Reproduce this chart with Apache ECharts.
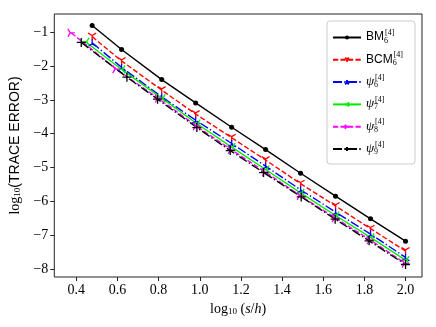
<!DOCTYPE html>
<html>
<head>
<meta charset="utf-8">
<script src="https://cdn.jsdelivr.net/npm/echarts@6/dist/echarts.min.js"></script>
<style>
html, body { margin: 0; padding: 0; background: #fff; }
#chart { width: 436px; height: 327px; }
</style>
</head>
<body>
<div id="chart"></div>
<script>
// values (log10 s/h vs log10 trace error)
const bmX = [0.477, 0.62, 0.815, 0.98, 1.155, 1.32, 1.49, 1.66, 1.83, 2.0];
const bmY = [-0.80, -1.51, -2.40, -3.09, -3.81, -4.47, -5.17, -5.85, -6.52, -7.18];
const bcmX = [0.477, 0.62, 0.815, 0.98, 1.155, 1.32, 1.49, 1.66, 1.83, 2.0];
const bcmY = [-1.13, -1.85, -2.71, -3.42, -4.12, -4.78, -5.48, -6.14, -6.81, -7.47];
const psi6X = [0.477, 0.62, 0.815, 0.98, 1.155, 1.32, 1.49, 1.66, 1.83, 2.0];
const psi6Y = [-1.31, -2.04, -2.91, -3.60, -4.29, -4.96, -5.66, -6.32, -6.97, -7.66];
const psi7X = [0.445, 0.62, 0.815, 0.985, 1.155, 1.32, 1.49, 1.66, 1.83, 2.0];
const psi7Y = [-1.28, -2.10, -2.95, -3.70, -4.40, -5.06, -5.75, -6.42, -7.07, -7.74];
const psi8X = [0.376, 0.594, 0.80, 0.985, 1.155, 1.32, 1.49, 1.66, 1.83, 2.0];
const psi8Y = [-1.02, -2.09, -2.96, -3.78, -4.48, -5.14, -5.84, -6.50, -7.15, -7.84];
const psi9X = [0.424, 0.646, 0.795, 0.986, 1.148, 1.31, 1.493, 1.658, 1.823, 2.0];
const psi9Y = [-1.30, -2.33, -2.98, -3.82, -4.50, -5.15, -5.87, -6.53, -7.17, -7.87];

const xTicks = [0.4, 0.6, 0.8, 1.0, 1.2, 1.4, 1.6, 1.8, 2.0];
const yTicks = [-8, -7, -6, -5, -4, -3, -2, -1];

const serif = 'Liberation Serif';
const sans = 'Liberation Sans';

// matplotlib-ish tri markers
const triDown = 'path://M5,5L5,10M5,5L0.67,2.5M5,5L9.33,2.5';
const triUp = 'path://M5,5L5,0M5,5L0.67,7.5M5,5L9.33,7.5';
const triLeft = 'path://M5,5L0,5M5,5L7.5,0.67M5,5L7.5,9.33';
const triRight = 'path://M5,5L10,5M5,5L2.5,0.67M5,5L2.5,9.33';
const plus = 'path://M5,0L5,10M0,5L10,5';

const pairs = (xs, ys) => xs.map((x, i) => [x, ys[i]]);

const mk = (name, xs, ys, color, dash, symbol, size) => ({
    name: name,
    type: 'line',
    data: pairs(xs, ys),
    symbol: symbol,
    symbolSize: size,
    symbolKeepAspect: true,
    showSymbol: true,
    lineStyle: { color: color, width: 1.4, type: dash },
    itemStyle: {
        color: symbol === 'circle' ? color : 'none',
        borderColor: color,
        borderWidth: symbol === 'circle' ? 0 : 1.3
    },
    emphasis: { disabled: true },
    animation: false
});

const dashed = [5.2, 2.3];
const dashDot = [9, 2.3, 1.4, 2.3];

const chart = echarts.init(document.getElementById('chart'), null, { renderer: 'canvas' });

const sub = { fontFamily: serif, fontSize: 8, padding: [7, 0, 0, 0], width: 1 };
const sup = { fontFamily: serif, fontSize: 8, padding: [0, 0, 8, 0] };

chart.setOption({
    backgroundColor: '#fff',
    animation: false,
    grid: {
        left: 54, right: 14, top: 14, bottom: 50,
        show: true, borderColor: '#222', borderWidth: 1, backgroundColor: 'transparent'
    },
    legend: {
        orient: 'vertical',
        right: 21,
        top: 21,
        itemWidth: 28,
        itemHeight: 5,
        itemGap: 6.8,
        padding: [8, 12, 8, 5],
        backgroundColor: 'rgba(255,255,255,0.8)',
        borderColor: '#ccc',
        borderWidth: 1,
        borderRadius: 3,
        selectedMode: false,
        data: ['BM', 'BCM', 'psi6', 'psi7', 'psi8', 'psi9'],
        formatter: function (n) {
            if (n === 'BM') return '{n|BM}{s|6}{p|[4]}';
            if (n === 'BCM') return '{n|BCM}{s|6}{p|[4]}';
            return '{g|ψ}{s|' + n.slice(3) + '}{p|[4]}';
        },
        textStyle: {
            color: '#000',
            height: 17,
            padding: [0, 0, 0, 0],
            rich: {
                n: { fontFamily: sans, fontSize: 12, color: '#000' },
                g: { fontFamily: serif, fontSize: 13, fontStyle: 'italic', color: '#000' },
                s: Object.assign({ color: '#000' }, sub),
                p: Object.assign({ color: '#000' }, sup)
            }
        }
    },
    xAxis: {
        type: 'value',
        min: 0.293,
        max: 2.08,
        name: '{a|log}{b|10}{c| (}{d|s}{c|/}{d|h}{c|)}',
        nameLocation: 'middle',
        nameGap: 19,
        nameTextStyle: {
            color: '#000',
            rich: {
                a: { fontFamily: serif, fontSize: 14 },
                b: { fontFamily: serif, fontSize: 9, padding: [6, 0, 0, 0] },
                c: { fontFamily: serif, fontSize: 14 },
                d: { fontFamily: serif, fontSize: 14, fontStyle: 'italic' }
            }
        },
        axisLine: { show: false },
        splitLine: { show: false },
        axisTick: { show: true, length: 4, customValues: xTicks, lineStyle: { color: '#222' } },
        axisLabel: {
            customValues: xTicks,
            color: '#000',
            fontFamily: serif,
            fontSize: 14,
            margin: 6,
            formatter: v => v.toFixed(1)
        }
    },
    yAxis: {
        type: 'value',
        min: -8.24,
        max: -0.46,
        name: '{a|log}{b|10}{c|(TRACE ERROR)}',
        nameLocation: 'middle',
        nameRotate: 90,
        nameGap: 27,
        nameTextStyle: {
            color: '#000',
            rich: {
                a: { fontFamily: serif, fontSize: 14 },
                b: { fontFamily: serif, fontSize: 9, padding: [6, 0, 0, 0] },
                c: { fontFamily: sans, fontSize: 14 }
            }
        },
        axisLine: { show: false },
        splitLine: { show: false },
        axisTick: { show: true, length: 4, customValues: yTicks, lineStyle: { color: '#222' } },
        axisLabel: {
            customValues: yTicks,
            color: '#000',
            fontFamily: serif,
            fontSize: 14,
            margin: 6,
            formatter: v => (v < 0 ? '\u2212' + Math.abs(v) : String(v))
        }
    },
    series: [
        mk('BM', bmX, bmY, '#000000', 'solid', 'circle', 5),
        mk('BCM', bcmX, bcmY, '#ff0000', dashed, triDown, 8),
        mk('psi6', psi6X, psi6Y, '#0000ff', dashDot, triUp, 8),
        mk('psi7', psi7X, psi7Y, '#00ee00', 'solid', triLeft, 8),
        mk('psi8', psi8X, psi8Y, '#ff00ff', dashed, triRight, 8),
        mk('psi9', psi9X, psi9Y, '#000000', dashDot, plus, 9)
    ]
});
</script>
</body>
</html>
